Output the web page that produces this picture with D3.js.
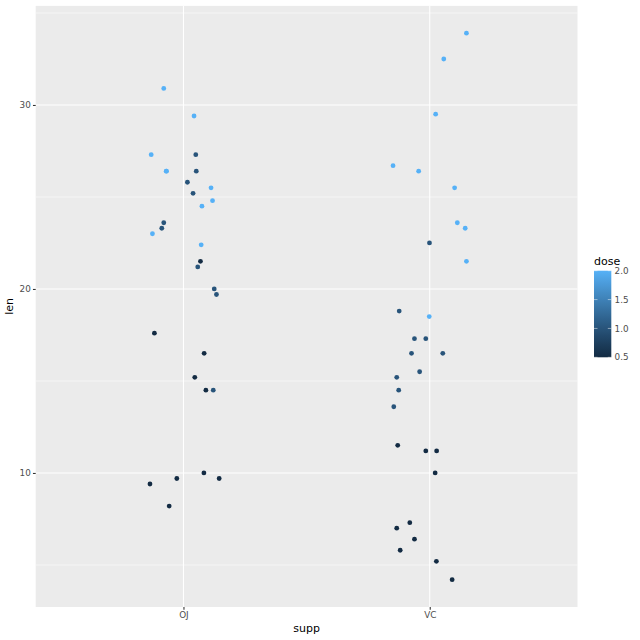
<!DOCTYPE html>
<html><head><meta charset="utf-8">
<script src="https://cdn.jsdelivr.net/npm/d3@7"></script>
<style>body{margin:0;background:#fff}svg{display:block}text{font-family:"DejaVu Sans",sans-serif}</style>
</head><body>
<script>
const categories = ["OJ", "VC"];
const supp = [
  "OJ","OJ","OJ","OJ","OJ","OJ","OJ","OJ","OJ","OJ",
  "OJ","OJ","OJ","OJ","OJ","OJ","OJ","OJ","OJ","OJ",
  "OJ","OJ","OJ","OJ","OJ","OJ","OJ","OJ","OJ","OJ",
  "VC","VC","VC","VC","VC","VC","VC","VC","VC","VC",
  "VC","VC","VC","VC","VC","VC","VC","VC","VC","VC",
  "VC","VC","VC","VC","VC","VC","VC","VC","VC","VC"];
const dose = [
  0.5,0.5,0.5,0.5,0.5,0.5,0.5,0.5,0.5,0.5,
  1,1,1,1,1,1,1,1,1,1,
  2,2,2,2,2,2,2,2,2,2,
  0.5,0.5,0.5,0.5,0.5,0.5,0.5,0.5,0.5,0.5,
  1,1,1,1,1,1,1,1,1,1,
  2,2,2,2,2,2,2,2,2,2];
const len = [
  15.2,21.5,17.6,9.7,14.5,10,8.2,9.4,16.5,9.7,
  19.7,23.3,23.6,26.4,20,25.2,25.8,21.2,14.5,27.3,
  25.5,26.4,22.4,24.5,24.8,30.9,26.4,27.3,29.4,23,
  4.2,11.5,7.3,5.8,6.4,10,11.2,11.2,5.2,7,
  16.5,16.5,15.2,17.3,22.5,17.3,13.6,14.5,18.8,15.5,
  23.6,18.5,33.9,25.5,26.4,32.5,26.7,21.5,23.3,29.5];
// horizontal jitter (in category units)
const jitter = [
  0.046,0.069,-0.118,-0.027,0.091,0.083,-0.058,-0.136,0.084,0.145,
  0.134,-0.088,-0.080,0.052,0.125,0.039,0.016,0.058,0.121,0.050,
  0.112,-0.070,0.072,0.075,0.118,-0.080,-0.069,-0.131,0.043,-0.126,
  0.091,-0.130,-0.081,-0.120,-0.062,0.022,-0.016,0.028,0.027,-0.134,
  -0.074,0.053,-0.134,-0.062,-0.001,-0.016,-0.146,-0.126,-0.124,-0.041,
  0.112,-0.002,0.149,0.101,-0.045,0.057,-0.149,0.149,0.144,0.024];
const yTicks = [10, 20, 30];
const yMinor = [5, 15, 25, 35];
const legendTicks = [0.5, 1.0, 1.5, 2.0];

const W = 640, H = 640;
const P = {left: 35.7, right: 577.5, top: 5.9, bottom: 607};
const svg = d3.select("body").append("svg").attr("width", W).attr("height", H);

const data = len.map((v, i) => ({len: v, supp: supp[i], dose: dose[i], j: jitter[i]}));

const ext = d3.extent(len);
const pad = (ext[1] - ext[0]) * 0.05;
const y = d3.scaleLinear().domain([ext[0] - pad, ext[1] + pad]).range([P.bottom, P.top]);
const xIdx = d3.scaleLinear().domain([0.4, 2.6]).range([P.left, P.right]);
const xPos = c => xIdx(categories.indexOf(c) + 1);
const col = d3.scaleLinear().domain(d3.extent(dose)).range(["#132B43", "#56B1F7"]).interpolate(d3.interpolateLab);

// panel
svg.append("rect").attr("x", P.left).attr("y", P.top).attr("width", P.right - P.left).attr("height", P.bottom - P.top).attr("fill", "#EBEBEB");
const g = svg.append("g");
g.selectAll(".minor").data(yMinor).join("line")
  .attr("x1", P.left).attr("x2", P.right).attr("y1", d => y(d)).attr("y2", d => y(d))
  .attr("stroke", "#fff").attr("stroke-width", 0.53);
g.selectAll(".major").data(yTicks).join("line")
  .attr("x1", P.left).attr("x2", P.right).attr("y1", d => y(d)).attr("y2", d => y(d))
  .attr("stroke", "#fff").attr("stroke-width", 1.07);
g.selectAll(".xmajor").data(categories).join("line")
  .attr("x1", d => xPos(d)).attr("x2", d => xPos(d)).attr("y1", P.top).attr("y2", P.bottom)
  .attr("stroke", "#fff").attr("stroke-width", 1.07);

// points
svg.append("g").selectAll("circle").data(data).join("circle")
  .attr("cx", d => xIdx(categories.indexOf(d.supp) + 1 + d.j))
  .attr("cy", d => y(d.len))
  .attr("r", 2.4)
  .attr("fill", d => col(d.dose));

// axes
const yAxis = d3.axisLeft(y).tickValues(yTicks).tickSize(2.75).tickPadding(2.2).tickFormat(d3.format("d"));
const ya = svg.append("g").attr("transform", `translate(${P.left},0)`).call(yAxis);
ya.select(".domain").remove();
ya.selectAll("line").attr("stroke", "#333").attr("stroke-width", 1.07);
ya.selectAll("text").attr("fill", "#4D4D4D").style("font-size", "8.8px");

const xBand = d3.scaleOrdinal().domain(categories).range(categories.map(c => xPos(c)));
const xAxis = d3.axisBottom(xBand).tickSize(2.75).tickPadding(2.2);
const xa = svg.append("g").attr("transform", `translate(0,${P.bottom})`).call(xAxis);
xa.select(".domain").remove();
xa.selectAll("line").attr("stroke", "#333").attr("stroke-width", 1.07);
xa.selectAll("text").attr("fill", "#4D4D4D").style("font-size", "8.8px");

svg.append("text").attr("x", (P.left + P.right) / 2).attr("y", 632).attr("text-anchor", "middle")
  .style("font-size", "11px").attr("fill", "#000").text("supp");
svg.append("text").attr("transform", `translate(13,${(P.top + P.bottom) / 2}) rotate(-90)`).attr("text-anchor", "middle")
  .style("font-size", "11px").attr("fill", "#000").text("len");

// legend
const L = {x: 594, top: 270.7, bottom: 357.3, w: 17.3};
const ly = d3.scaleLinear().domain(d3.extent(dose)).range([L.bottom, L.top]);
const defs = svg.append("defs");
const grad = defs.append("linearGradient").attr("id", "grad").attr("x1", 0).attr("y1", 1).attr("x2", 0).attr("y2", 0);
d3.range(0, 1.0001, 0.05).forEach(t => {
  const v = ly.domain()[0] + t * (ly.domain()[1] - ly.domain()[0]);
  grad.append("stop").attr("offset", t).attr("stop-color", col(v));
});
svg.append("rect").attr("x", L.x).attr("y", L.top).attr("width", L.w).attr("height", L.bottom - L.top).attr("fill", "url(#grad)");
const lt = svg.append("g");
lt.selectAll(".tl").data(legendTicks).join("line").attr("x1", L.x).attr("x2", L.x + 3.5)
  .attr("y1", d => ly(d)).attr("y2", d => ly(d)).attr("stroke", "#fff").attr("stroke-opacity", 0.6).attr("stroke-width", 0.8);
lt.selectAll(".tr").data(legendTicks).join("line").attr("x1", L.x + L.w - 3.5).attr("x2", L.x + L.w)
  .attr("y1", d => ly(d)).attr("y2", d => ly(d)).attr("stroke", "#fff").attr("stroke-opacity", 0.6).attr("stroke-width", 0.8);
lt.selectAll("text").data(legendTicks).join("text").attr("x", L.x + L.w + 3.3).attr("y", d => ly(d)).attr("dy", "0.35em")
  .style("font-size", "8.8px").attr("fill", "#4D4D4D").text(d => d3.format(".1f")(d));
svg.append("text").attr("x", L.x).attr("y", 265).style("font-size", "11px").attr("fill", "#000").text("dose");
</script>
</body></html>
